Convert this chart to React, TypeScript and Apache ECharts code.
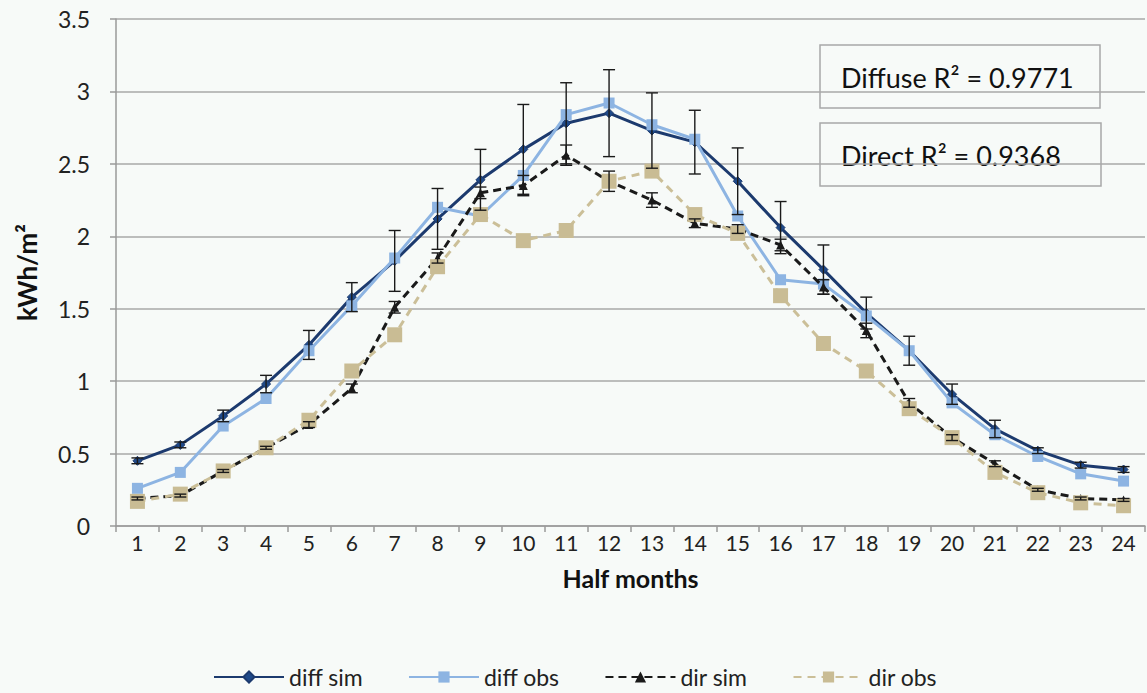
import React, { useEffect, useRef } from "react";
import * as echarts from "echarts";

const categories = ["1","2","3","4","5","6","7","8","9","10","11","12","13","14","15","16","17","18","19","20","21","22","23","24"];
const yTicks = [0, 0.5, 1, 1.5, 2, 2.5, 3, 3.5];

const diffSim = [0.45,0.56,0.76,0.98,1.25,1.58,1.83,2.12,2.39,2.60,2.78,2.85,2.73,2.65,2.38,2.06,1.77,1.47,1.21,0.91,0.67,0.52,0.42,0.39];
const diffSimErr = [0.02,0.02,0.04,0.06,0.10,0.10,0.21,0.21,0.21,0.31,0.28,0.30,0.26,0.22,0.23,0.18,0.17,0.11,0.10,0.07,0.06,0.02,0.02,0.02];
const diffObs = [0.26,0.37,0.69,0.88,1.21,1.52,1.85,2.20,2.14,2.42,2.84,2.92,2.77,2.67,2.14,1.70,1.67,1.45,1.21,0.85,0.63,0.48,0.36,0.31];
const dirSim = [0.19,0.21,0.38,0.54,0.70,0.95,1.51,1.85,2.30,2.35,2.56,2.38,2.25,2.09,2.05,1.94,1.65,1.35,0.85,0.61,0.43,0.25,0.19,0.18];
const dirSimErr = [0.01,0.01,0.01,0.01,0.02,0.03,0.04,0.035,0.04,0.07,0.07,0.07,0.05,0.03,0.03,0.04,0.05,0.05,0.03,0.02,0.02,0.01,0.01,0.01];
const dirObs = [0.17,0.22,0.38,0.54,0.73,1.07,1.32,1.79,2.15,1.97,2.04,2.38,2.45,2.15,2.02,1.59,1.26,1.07,0.81,0.61,0.37,0.23,0.16,0.14];

const FONT = "Lato, 'Open Sans', sans-serif";
const BG = "#f7faf8";

function errorSeries(values: number[], errs: number[], name: string) {
  return {
    type: "custom",
    name,
    z: 10,
    silent: true,
    encode: { x: 0, y: [1, 2] },
    data: values.map((v, i) => [i, v - errs[i], v + errs[i]]),
    renderItem: (params: any, api: any) => {
      const x = api.value(0);
      const top = api.coord([x, api.value(2)]);
      const bot = api.coord([x, api.value(1)]);
      const hw = 6;
      const style = { stroke: "#1a1a1a", lineWidth: 1.4 };
      return {
        type: "group",
        children: [
          { type: "line", shape: { x1: top[0], y1: top[1], x2: bot[0], y2: bot[1] }, style },
          { type: "line", shape: { x1: top[0] - hw, y1: top[1], x2: top[0] + hw, y2: top[1] }, style },
          { type: "line", shape: { x1: bot[0] - hw, y1: bot[1], x2: bot[0] + hw, y2: bot[1] }, style },
        ],
      };
    },
  };
}

export default function App() {
  const ref = useRef<HTMLDivElement>(null);
  useEffect(() => {
    if (!ref.current) return;
    const chart = echarts.init(ref.current, undefined, { renderer: "svg" });
    const option: any = {
      animation: false,
      backgroundColor: BG,
      textStyle: { fontFamily: FONT },
      grid: { left: 116, right: 2, top: 19, bottom: 167, containLabel: false },
      legend: {
        data: ["diff sim", "diff obs", "dir sim", "dir obs"],
        top: 664,
        left: 213,
        padding: 0,
        itemWidth: 70,
        itemHeight: 14,
        itemGap: 45,
        textStyle: { fontFamily: FONT, fontSize: 23, color: "#222", lineHeight: 26 },
      },
      xAxis: {
        type: "category",
        data: categories,
        boundaryGap: true,
        name: "Half months",
        nameLocation: "middle",
        nameGap: 39,
        nameTextStyle: { fontFamily: FONT, fontSize: 25, fontWeight: "bold", color: "#111" },
        axisLine: { lineStyle: { color: "#9a9a9a", width: 1.5 } },
        axisTick: { show: true, length: 6, lineStyle: { color: "#9a9a9a", width: 1.5 } },
        axisLabel: { fontFamily: FONT, fontSize: 21, color: "#222", margin: 6 },
        splitLine: { show: false },
      },
      yAxis: {
        type: "value",
        min: yTicks[0],
        max: yTicks[yTicks.length - 1],
        interval: 0.5,
        name: "kWh/m²",
        nameLocation: "middle",
        nameGap: 76,
        nameRotate: 90,
        nameTextStyle: { fontFamily: FONT, fontSize: 26, fontWeight: "bold", color: "#111" },
        axisLine: { show: true, lineStyle: { color: "#9a9a9a", width: 1.5 } },
        axisTick: { show: true, length: 6, lineStyle: { color: "#9a9a9a", width: 1.5 } },
        axisLabel: { fontFamily: FONT, fontSize: 23, color: "#222", margin: 26 },
        splitLine: { show: true, lineStyle: { color: "#a8a8a8", width: 1.5 } },
      },
      series: [
        {
          name: "diff sim",
          type: "line",
          data: diffSim,
          z: 3,
          symbol: "diamond",
          symbolSize: 9,
          lineStyle: { color: "#1c3a6e", width: 3 },
          itemStyle: { color: "#1f4a8a", borderColor: "#1c3a6e", borderWidth: 1 },
        },
        {
          name: "diff obs",
          type: "line",
          data: diffObs,
          z: 4,
          symbol: "rect",
          symbolSize: 11,
          lineStyle: { color: "#8db4e2", width: 3 },
          itemStyle: { color: "#8db4e2" },
        },
        {
          name: "dir sim",
          type: "line",
          data: dirSim,
          z: 5,
          symbol: "triangle",
          symbolSize: 9,
          lineStyle: { color: "#1a1a1a", width: 3, type: [8, 5] },
          itemStyle: { color: "#1a1a1a" },
        },
        {
          name: "dir obs",
          type: "line",
          data: dirObs,
          z: 6,
          symbol: "rect",
          symbolSize: 15,
          lineStyle: { color: "#cbbf98", width: 3, type: [8, 6] },
          itemStyle: { color: "#c9bc94" },
        },
        errorSeries(diffSim, diffSimErr, "diff sim err"),
        errorSeries(dirSim, dirSimErr, "dir sim err"),
      ],
      graphic: [
        {
          type: "group",
          z: 100,
          children: [
            { type: "rect", shape: { x: 820, y: 45, width: 280, height: 63 }, style: { fill: BG, stroke: "#a8a8a8", lineWidth: 1.5 } },
            { type: "text", x: 841, y: 77, style: { text: "Diffuse R² = 0.9771", fontFamily: FONT, fontSize: 27, fill: "#111", verticalAlign: "middle" } },
            { type: "rect", shape: { x: 820, y: 123, width: 281, height: 63 }, style: { fill: BG, stroke: "#a8a8a8", lineWidth: 1.5 } },
            { type: "text", x: 841, y: 155, style: { text: "Direct R² = 0.9368", fontFamily: FONT, fontSize: 27, fill: "#111", verticalAlign: "middle" } },
          ],
        },
      ],
    };
    chart.setOption(option);
    return () => chart.dispose();
  }, []);
  return (
    <div
      ref={ref}
      style={{ position: "absolute", left: 0, top: 0, width: 1147, height: 693, background: BG }}
    />
  );
}
